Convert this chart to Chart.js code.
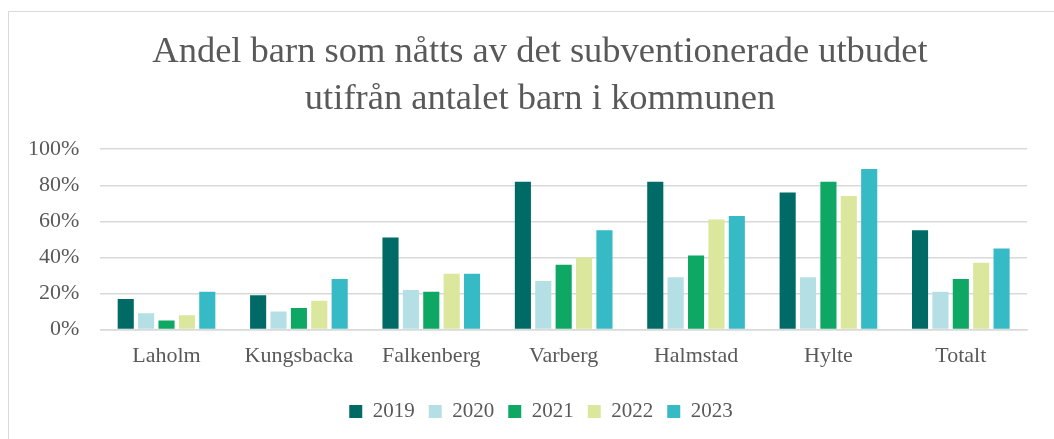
<!DOCTYPE html>
<html>
<head>
<meta charset="utf-8">
<script src="https://cdn.jsdelivr.net/npm/chart.js@4"></script>
<style>
  html, body { margin: 0; padding: 0; background: #fff; overflow: hidden; }
  #frame { position: absolute; left: 8px; top: 11px; width: 1100px; height: 460px; border: 1.5px solid #d9d9d9; }
  #wrap { position: absolute; left: 0; top: 0; width: 1054px; height: 439px; }
</style>
</head>
<body>
<div id="frame"></div>
<div id="wrap"><canvas id="mycanvas"></canvas></div>
<script>
var kommuner = ['Laholm', 'Kungsbacka', 'Falkenberg', 'Varberg', 'Halmstad', 'Hylte', 'Totalt'];
var years = ['2019', '2020', '2021', '2022', '2023'];
var v2019 = [17, 19, 51, 82, 82, 76, 55];
var v2020 = [9, 10, 22, 27, 29, 29, 21];
var v2021 = [5, 12, 21, 36, 41, 82, 28];
var v2022 = [8, 16, 31, 40, 61, 74, 37];
var v2023 = [21, 28, 31, 55, 63, 89, 45];
var colors = ['#006B66', '#B4DFE5', '#0EA763', '#DAE79C', '#36BAC5'];
var values = [v2019, v2020, v2021, v2022, v2023];

var textColor = '#595959';
var serif = "'Liberation Serif', 'DejaVu Serif', serif";

var datasets = [];
for (var i in years) {
	datasets.push({
		label: years[i],
		data: values[i],
		backgroundColor: colors[i],
		borderColor: colors[i],
		categoryPercentage: 0.77,
		barPercentage: 0.79
	});
}

// title and legend are centred on the whole frame, not just the plot
var centreShift = {
	id: 'centreShift',
	afterLayout: function(chart) {
		var t = chart.titleBlock;
		if (t) { t.left += 23; t.right += 23; }
		var l = chart.legend;
		if (l) { l.left += 24; l.right += 24; l.top += 13; l.bottom += 13; }
	}
};

var ctx = document.getElementById('mycanvas');
var chart = new Chart(ctx, {
	type: 'bar',
	data: { labels: kommuner, datasets: datasets },
	plugins: [centreShift],
	options: {
		responsive: true,
		maintainAspectRatio: false,
		animation: false,
		layout: { padding: { left: 7, right: 27, top: 29, bottom: 20 } },
		plugins: {
			title: {
				display: true,
				text: ['Andel barn som nåtts av det subventionerade utbudet', 'utifrån antalet barn i kommunen'],
				color: textColor,
				font: { family: serif, size: 36.5, weight: 'normal', lineHeight: 1.29 },
				padding: { top: 0, bottom: 26 }
			},
			legend: {
				position: 'bottom',
				labels: {
					color: textColor,
					font: { family: serif, size: 21 },
					boxWidth: 13,
					boxHeight: 13,
					padding: 14
				}
			},
			tooltip: { enabled: false }
		},
		scales: {
			x: {
				grid: { display: false },
				border: { color: '#d9d9d9', width: 1.5 },
				ticks: { color: textColor, font: { family: serif, size: 22 }, padding: 5 }
			},
			y: {
				min: 0,
				max: 100,
				grid: { color: '#d9d9d9', lineWidth: 1.5, drawTicks: false },
				border: { display: false },
				ticks: {
					stepSize: 20,
					color: textColor,
					font: { family: serif, size: 22 },
					padding: 21,
					callback: function(v) { return v + '%'; }
				}
			}
		}
	}
});
</script>
</body>
</html>
